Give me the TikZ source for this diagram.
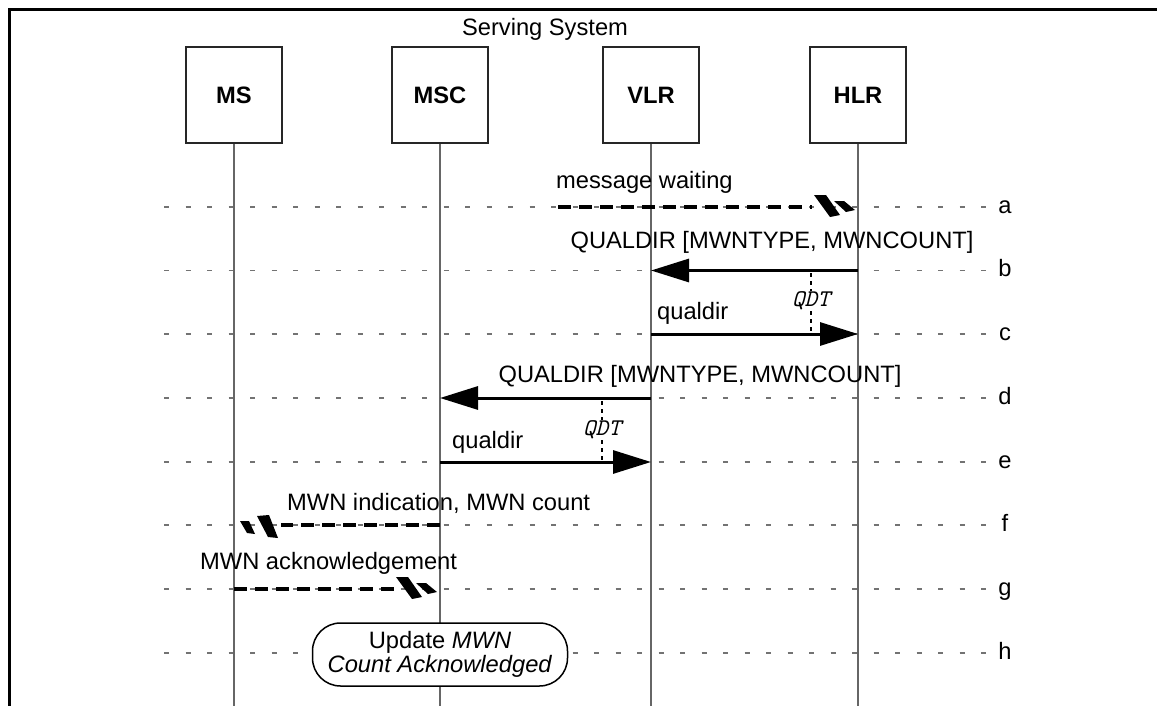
\documentclass[tikz,border=0pt]{standalone}
\usepackage{fontspec}
\setmainfont{Liberation Sans}
\usetikzlibrary{arrows.meta,calc}
\begin{document}
\begin{tikzpicture}[x=1pt,y=-1pt,
  ent/.style={draw=black!85,line width=2.5pt,minimum width=96pt,minimum height=96pt,inner sep=0pt,font=\fontsize{23.7}{28}\selectfont\bfseries},
  life/.style={draw=black!60,line width=2pt},
  gridline/.style={draw=black!55,line width=1.2pt,dash pattern=on 5pt off 16.5pt},
  msg/.style={line width=3pt,-{Triangle[length=38pt,width=23pt]}},
  ext/.style={line width=4.5pt,dash pattern=on 13pt off 8pt},
  lbl/.style={font=\fontsize{23.7}{28}\selectfont,inner sep=0pt,anchor=base west},
  clbl/.style={font=\fontsize{23.7}{28}\selectfont,inner sep=0pt,anchor=base},
  qdtline/.style={line width=2.5pt,dash pattern=on 4pt off 4pt},
  qlbl/.style={font=\fontsize{24}{28}\selectfont\ttfamily\itshape,inner sep=1pt,fill=white},
  hatchR/.pic={\fill (-44,-12) -- (-32,-12) -- (-18,8) -- (-28,10) -- cycle;
               \fill (-24,-6) -- (-14,-6) -- (-3,3) -- (-12,5) -- cycle;},
  hatchL/.pic={\fill (6,-4) -- (15,-4) -- (21,9) -- (13,8) -- cycle;
               \fill (23,-9) -- (35,-10) -- (44,13) -- (34,12) -- cycle;},
]
\useasboundingbox (0,0) rectangle (1157,706);
% frame
\draw[line width=3pt] (9.5,706) -- (9.5,9.5) -- (1157,9.5);
\node[clbl] (title) at (545,36) {Serving System};
% entities
\node[ent] (ms)  at (234,95) {MS};
\node[ent] (msc) at (440,95) {MSC};
\node[ent] (vlr) at (651,95) {VLR};
\node[ent] (hlr) at (858,95) {HLR};
% rows
\foreach \n/\y in {a/207,b/270.5,c/334,d/398,e/462,f/525,g/589,h/653}{
  \coordinate (row\n) at (0,\y);
  \coordinate (gs\n) at (164,\y);
  \coordinate (ge\n) at (988,\y);
  \draw[gridline] (gs\n) -- (ge\n);
  \node[clbl] (lab\n) at (1005,\y+6) {\n};
}
% lifelines
\foreach \e in {ms,msc,vlr,hlr}{
  \coordinate (\e end) at (\e |- 0,706);
  \draw[life] (\e.south) -- (\e end);
}
% a: message waiting
\coordinate (astart) at (558,207);
\coordinate (aend) at ($(hlr |- rowa)+(-46,0)$);
\draw[ext] (astart) -- (aend);
\pic at (hlr |- rowa) {hatchR};
\node[lbl] (la) at (556,189) {message waiting};
% b
\draw[msg] (hlr |- rowb) -- (vlr |- rowb);
\node[clbl] (lb) at (772,248) {QUALDIR [MWNTYPE, MWNCOUNT]};
% c
\draw[msg] (vlr |- rowc) -- (hlr |- rowc);
\node[lbl] (lc) at (657,319) {qualdir};
% QDT 1
\node[qlbl] (q1) at (811,301) {QDT};
\draw[qdtline] (811,273) -- (q1.north);
\draw[qdtline] (q1.south) -- (811,333);
% d
\draw[msg] (vlr |- rowd) -- (msc |- rowd);
\node[clbl] (ld) at (700,382) {QUALDIR [MWNTYPE, MWNCOUNT]};
% e
\draw[msg] (msc |- rowe) -- (vlr |- rowe);
\node[lbl] (le) at (452,448) {qualdir};
% QDT 2
\node[qlbl] (q2) at (602,430) {QDT};
\draw[qdtline] (602,401) -- (q2.north);
\draw[qdtline] (q2.south) -- (602,461);
% f
\coordinate (fend) at ($(ms |- rowf)+(47,0)$);
\draw[ext] (msc |- rowf) -- (fend);
\pic at (ms |- rowf) {hatchL};
\node[lbl] (lf) at (287,510) {MWN indication, MWN count};
% g
\coordinate (gend) at ($(msc |- rowg)+(-46,0)$);
\draw[ext] (ms |- rowg) -- (gend);
\pic at (msc |- rowg) {hatchR};
\node[lbl] (lg) at (200,569) {MWN acknowledgement};
% h
\node[draw,line width=1.5pt,fill=white,rounded corners=28pt,minimum width=255pt,minimum height=63pt,align=center,inner sep=0pt,
      font=\fontsize{23.7}{24}\selectfont] (upd) at (440,654.5) {Update \textit{MWN}\\\textit{Count Acknowledged}};
\end{tikzpicture}
\end{document}
